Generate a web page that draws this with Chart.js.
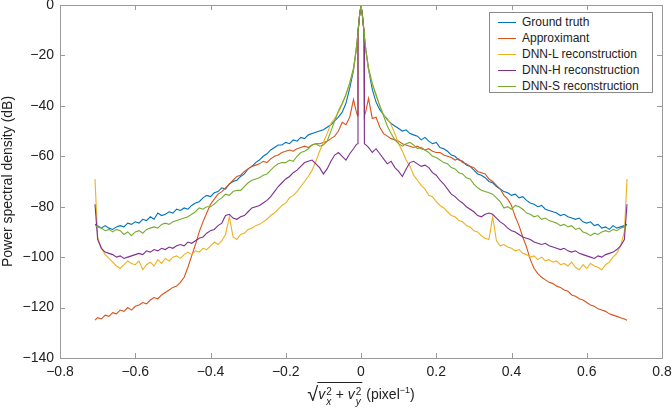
<!DOCTYPE html>
<html>
<head>
<meta charset="utf-8">
<script src="https://cdn.jsdelivr.net/npm/chart.js@4.4.1/dist/chart.umd.min.js"></script>
<style>
  body { margin: 0; background: #fff; }
  #wrap { position: relative; width: 672px; height: 415px; font-family: "Liberation Sans", Arial, Helvetica, sans-serif; color: #222; }
  #legend { position: absolute; left: 489px; top: 12px; width: 164px; height: 81px; border: 1px solid #8a8a8a; background: #fff; box-sizing: border-box; padding-top: 1px; }
  #legend .row { height: 16px; line-height: 16px; font-size: 12px; white-space: nowrap; }
  #legend .swatch { display: inline-block; width: 18px; height: 0; border-top: 1.3px solid; vertical-align: middle; margin: 0 6px 0 8px; }
  #xlab { position: absolute; left: 361px; top: 382px; transform: translateX(-50%); font-size: 14px; white-space: nowrap; }
  #xlab .rad { font-size: 20px; vertical-align: -2px; margin-right: -1px; }
  #xlab .ov { display: inline-block; border-top: 1px solid #222; padding: 2px 1px 0 1px; line-height: 18px; }
  #xlab .ss { display: inline-block; vertical-align: -6px; font-size: 10px; line-height: 10px; margin-left: 1px; }
  #xlab .ss span { display: block; }
  #xlab .ss span.lo { font-style: italic; }
  #xlab sup { font-size: 9px; }
</style>
</head>
<body>
<div id="wrap">
  <canvas id="psd" width="672" height="415"></canvas>
  <div id="legend"></div>
  <div id="xlab"><span class="rad">√</span><span class="ov"><i>v</i><span class="ss"><span>2</span><span class="lo">x</span></span> + <i>v</i><span class="ss"><span>2</span><span class="lo">y</span></span></span> (pixel<sup>−1</sup>)</div>
</div>
<script>
// radial frequency (pixel^-1)
var freq = [
  -0.707, -0.70, -0.69, -0.68, -0.67, -0.66, -0.65, -0.64, -0.63, -0.62, -0.61,
  -0.60, -0.59, -0.58, -0.57, -0.56, -0.55, -0.54, -0.53, -0.52, -0.51,
  -0.50, -0.49, -0.48, -0.47, -0.46, -0.45, -0.44, -0.43, -0.42, -0.41,
  -0.40, -0.39, -0.38, -0.37, -0.36, -0.35, -0.34, -0.33, -0.32, -0.31,
  -0.30, -0.29, -0.28, -0.27, -0.26, -0.25, -0.24, -0.23, -0.22, -0.21,
  -0.20, -0.19, -0.18, -0.17, -0.16, -0.15, -0.14, -0.13, -0.12, -0.11,
  -0.10, -0.09, -0.08, -0.07, -0.06, -0.05, -0.04, -0.03,
  -0.02, -0.013, -0.009, -0.008, -0.004,
  0,
  0.004, 0.008, 0.009, 0.013, 0.02,
  0.03, 0.04, 0.05, 0.06, 0.07, 0.08, 0.09, 0.10,
  0.11, 0.12, 0.13, 0.14, 0.15, 0.16, 0.17, 0.18, 0.19, 0.20,
  0.21, 0.22, 0.23, 0.24, 0.25, 0.26, 0.27, 0.28, 0.29, 0.30,
  0.31, 0.32, 0.33, 0.34, 0.35, 0.36, 0.37, 0.38, 0.39, 0.40,
  0.41, 0.42, 0.43, 0.44, 0.45, 0.46, 0.47, 0.48, 0.49, 0.50,
  0.51, 0.52, 0.53, 0.54, 0.55, 0.56, 0.57, 0.58, 0.59, 0.60,
  0.61, 0.62, 0.63, 0.64, 0.65, 0.66, 0.67, 0.68, 0.69, 0.70,
  0.707
];

// power spectral density (dB)
var groundTruth = [
  -87,
  -87.5, -88.5, -87.5, -88.5, -89, -88, -87.5, -88, -86.5, -87,
  -86, -86.5, -85, -85.5, -84, -85, -82.5, -83.5, -83, -82,
  -82.5, -81, -81.5, -80.5, -81, -79.5, -78.5, -78, -76.5, -75.5,
  -76, -74.5, -74, -72.5, -73, -71, -70, -69.5, -68, -67,
  -65, -64, -62.5, -61.5, -60, -59, -57.5, -56.5, -55.5, -55.5,
  -54.5, -55, -53.5, -54, -52.5, -53, -51.5, -51, -50.5, -50,
  -49.5, -48.5, -47.5, -46, -44.5, -42.5, -39, -33,
  -26, -18, -12.5, -10.5, -4.5,
  0,
  -4.5, -10.5, -12.5, -18, -25.5,
  -33.5, -38.5, -41.5, -43.5, -45.5, -47, -48, -49,
  -50, -49.5, -51, -51.5, -52, -53.5, -52.5, -54, -55, -54.5,
  -56.5, -57, -58, -59.5, -60, -61.5, -62, -63.5, -64, -65.5,
  -67, -67.5, -68.5, -70, -70.5, -72, -73, -74, -74.5, -75.5,
  -75, -76.5, -76, -77.5, -78.5, -79, -80, -79.5, -81, -81.5,
  -82, -82.5, -83.5, -83, -84, -84.5, -85, -84.5, -86, -86.5,
  -86, -87.5, -87, -88.5, -88, -89, -87.5, -88.5, -88, -87.5,
  -87
];

var approximant = [
  -125,
  -124, -124.5, -123, -123.5, -122, -122.5, -121, -121.5, -120, -121,
  -119.5, -119, -118, -118.5, -117, -116, -116.5, -115, -114, -113,
  -112, -111.5, -110, -108, -104, -99.5, -95, -90, -86, -82.5,
  -79, -77, -75, -74, -72.5, -71, -69.5, -68, -67.5, -66,
  -65, -64, -63.5, -63, -62, -62.5, -61, -60, -59.5, -58.5,
  -58, -57.5, -58, -57, -56.5, -56, -56.5, -55.5, -55, -55,
  -54.5, -54, -53, -52, -50, -46.5, -47.5, -44.5,
  -37.5, -42, -44, -11, -4.5,
  0,
  -4.5, -11, -44, -42, -37,
  -45, -44.5, -48.5, -51, -52, -53, -53.5, -54,
  -55, -55.5, -56, -56.5, -56, -57, -57.5, -57, -58, -58.5,
  -58.5, -59.5, -60, -60.5, -61.5, -61, -62.5, -63, -64, -64.5,
  -66, -66.5, -67, -69, -70, -71.5, -73, -75.5, -77, -79.5,
  -84, -87.5, -92, -96, -101, -104.5, -106.5, -108, -109, -110,
  -110.5, -111.5, -112, -113, -113.5, -115, -115.5, -116.5, -117, -118,
  -119, -119.5, -120.5, -121, -121.5, -122.5, -123, -123.5, -124, -124.5,
  -125
];

var dnnL = [
  -69,
  -92, -96.5, -99, -100.5, -102, -103.5, -104.5, -103, -101.5, -102.5,
  -103, -101.5, -105, -103, -102, -103.5, -101, -102.5, -100.5, -101.5,
  -100, -99.5, -100.5, -99, -98, -99, -97.5, -98, -96.5, -97,
  -95.5, -94, -95, -93.5, -91, -84, -92, -93, -91, -90.5,
  -89, -88.5, -87.5, -87, -86, -85, -83.5, -82.5, -81, -79.5,
  -78.5, -76.5, -75.5, -74, -72, -70, -68, -65.5, -62, -58,
  -54.5, -51, -47, -45, -42.5, -39.5, -35.5, -31,
  -25.5, -18, -12.5, -10.5, -4.5,
  0,
  -4.5, -10.5, -12.5, -18, -25.5,
  -31.5, -36, -40, -43.5, -45, -47.5, -51, -55,
  -58, -61.5, -64, -67.5, -69.5, -71.5, -73, -75.5, -76, -78,
  -79.5, -80.5, -82, -83.5, -84, -85.5, -86, -87.5, -88, -89.5,
  -90, -91.5, -92.5, -93, -84, -93.5, -95.5, -95, -96, -96.5,
  -97.5, -97, -98.5, -99, -100, -99.5, -101, -100, -101.5, -101,
  -102, -101.5, -103, -102.5, -103.5, -102, -104, -105, -103, -104.5,
  -102.5, -103.5, -104, -105, -103, -102, -100, -98.5, -95.5, -90,
  -69
];

var dnnH = [
  -79,
  -93, -96.5, -98, -98.5, -99, -100, -99.5, -100.5, -100, -99.5,
  -99, -98.5, -99, -97.5, -98, -97, -97.5, -96.5, -97, -96,
  -96.5, -95.5, -95, -95.5, -94, -94.5, -93.5, -92.5, -92, -90.5,
  -89.5, -89, -87.5, -86.5, -83.5, -83, -84.5, -85, -84, -83.5,
  -82, -80.5, -80, -79.5, -78.5, -77.5, -76, -74, -72, -70.5,
  -69, -68, -66.5, -65.5, -64, -62.5, -62, -61.5, -63, -64.5,
  -67, -65, -62, -59.5, -58.5, -60, -61.5, -59,
  -57, -55.5, -55, -11, -4.5,
  0,
  -4.5, -11, -55, -55.5, -56.5,
  -58.5, -57, -59, -61, -63, -62, -64.5, -66,
  -68, -65, -62.5, -62, -63, -64, -63.5, -64.5, -66.5, -67.5,
  -69.5, -71, -73, -75, -76, -77.5, -78.5, -80, -81, -82,
  -83.5, -84, -83, -82.5, -83, -84.5, -86, -87, -88.5, -89.5,
  -90, -91, -92, -92.5, -93, -94, -94.5, -95, -94.5, -95.5,
  -96, -96.5, -97, -96.5, -97.5, -98, -97.5, -98.5, -99, -99.5,
  -100, -100.5, -99.5, -100, -99, -98.5, -98, -97, -95.5, -93,
  -79
];

var dnnS = [
  -87.5,
  -88, -88.5, -89.5, -89, -90, -89, -89.5, -91, -90, -91.5,
  -90, -89.5, -90.5, -89, -88.5, -88, -88.5, -87, -86.5, -87,
  -86, -85.5, -85, -84.5, -84, -83, -82, -80.5, -81, -80,
  -80, -79, -77.5, -76.5, -75, -75.5, -74, -73.5, -73.5, -72,
  -70.5, -69.5, -69, -68.5, -67.5, -67, -65.5, -64, -63, -62.5,
  -62.5, -61.5, -62, -60, -58.5, -58, -57, -55.5, -55, -56,
  -55.5, -54, -50, -46, -42, -39, -35.5, -31,
  -25, -18, -12.5, -10.5, -4.5,
  0,
  -4.5, -10.5, -12.5, -18, -25,
  -31, -35.5, -40, -44, -48, -51, -53.5, -55,
  -56, -55, -54.5, -55.5, -57, -56.5, -57.5, -58.5, -60, -60.5,
  -61.5, -62.5, -63, -64.5, -65, -66.5, -67, -68.5, -69, -71,
  -72.5, -73.5, -74, -74.5, -75, -76.5, -78, -80.5, -80, -81,
  -79.5, -80, -81, -82.5, -83, -84, -83.5, -85, -84.5, -85.5,
  -86, -86.5, -87.5, -87, -88, -87.5, -89, -88.5, -90, -90.5,
  -91.5, -90.5, -91, -90, -89.5, -90, -89, -89.5, -88.5, -88,
  -87.5
];

var seriesLabels = ['Ground truth', 'Approximant', 'DNN-L reconstruction', 'DNN-H reconstruction', 'DNN-S reconstruction'];
var seriesColors = ['#0072BD', '#D95319', '#EDB120', '#7E2F8E', '#77AC30'];
var seriesValues = [groundTruth, approximant, dnnL, dnnH, dnnS];

var xTicks = [-0.8, -0.6, -0.4, -0.2, 0, 0.2, 0.4, 0.6, 0.8];
var yTicks = [0, -20, -40, -60, -80, -100, -120, -140];

var FONT = '"Liberation Sans", Arial, Helvetica, sans-serif';
var AXIS_COLOR = '#9a9a9a';

function minusLabel(v, digits) {
  if (Math.abs(v) < 1e-9) return '0';
  return (v < 0 ? '\u2212' : '') + Math.abs(v).toFixed(digits);
}

var datasets = seriesValues.map(function (vals, k) {
  return {
    label: seriesLabels[k],
    data: freq.map(function (f, i) { return { x: f, y: vals[i] }; }),
    borderColor: seriesColors[k],
    backgroundColor: seriesColors[k],
    borderWidth: 1.1,
    pointRadius: 0,
    tension: 0,
    fill: false,
    order: seriesValues.length - k
  };
});

// matlab style box with inward ticks on all four sides
var boxTicks = {
  id: 'boxTicks',
  afterDraw: function (chart) {
    var ctx = chart.ctx, a = chart.chartArea;
    var xs = chart.scales.x, ys = chart.scales.y;
    var len = 5;
    ctx.save();
    ctx.strokeStyle = AXIS_COLOR;
    ctx.lineWidth = 1;
    ctx.beginPath();
    xTicks.forEach(function (t) {
      var px = Math.round(xs.getPixelForValue(t)) + 0.5;
      ctx.moveTo(px, a.bottom); ctx.lineTo(px, a.bottom - len);
      ctx.moveTo(px, a.top); ctx.lineTo(px, a.top + len);
    });
    yTicks.forEach(function (t) {
      var py = Math.round(ys.getPixelForValue(t)) + 0.5;
      ctx.moveTo(a.left, py); ctx.lineTo(a.left + len, py);
      ctx.moveTo(a.right, py); ctx.lineTo(a.right - len, py);
    });
    ctx.stroke();
    ctx.strokeRect(Math.round(a.left) + 0.5, Math.round(a.top) + 0.5,
      Math.round(a.right - a.left), Math.round(a.bottom - a.top));
    ctx.restore();
  }
};

var ctx = document.getElementById('psd').getContext('2d');
var psdChart = new Chart(ctx, {
  type: 'line',
  data: { datasets: datasets },
  options: {
    responsive: false,
    animation: false,
    devicePixelRatio: 1,
    layout: { padding: { left: 0, top: 5, right: 10, bottom: 0 } },
    scales: {
      x: {
        type: 'linear',
        min: -0.8,
        max: 0.8,
        afterBuildTicks: function (s) { s.ticks = xTicks.map(function (v) { return { value: v }; }); },
        afterFit: function (s) { s.height = 57; s.paddingLeft = 0; s.paddingRight = 0; },
        grid: { display: false, drawTicks: false },
        border: { display: false },
        ticks: {
          padding: 6,
          color: '#222',
          font: { family: FONT, size: 14 },
          maxRotation: 0,
          callback: function (v) { return minusLabel(v, 1); }
        }
      },
      y: {
        type: 'linear',
        min: -140,
        max: 0,
        afterBuildTicks: function (s) { s.ticks = yTicks.map(function (v) { return { value: v }; }); },
        afterFit: function (s) { s.width = 60; s.paddingTop = 0; s.paddingBottom = 0; },
        grid: { display: false, drawTicks: false },
        border: { display: false },
        title: {
          display: true,
          text: 'Power spectral density (dB)',
          color: '#222',
          font: { family: FONT, size: 14 },
          padding: { top: 0, bottom: 0 }
        },
        ticks: {
          padding: 6,
          color: '#222',
          font: { family: FONT, size: 14 },
          callback: function (v) { return minusLabel(v, 0); }
        }
      }
    },
    plugins: {
      legend: { display: false },
      tooltip: { enabled: false }
    }
  },
  plugins: [boxTicks]
});

// legend box in the upper right corner
var legendBox = document.getElementById('legend');
seriesLabels.forEach(function (label, k) {
  var row = document.createElement('div');
  row.className = 'row';
  var sw = document.createElement('span');
  sw.className = 'swatch';
  sw.style.borderColor = seriesColors[k];
  row.appendChild(sw);
  row.appendChild(document.createTextNode(label));
  legendBox.appendChild(row);
});
</script>
</body>
</html>
